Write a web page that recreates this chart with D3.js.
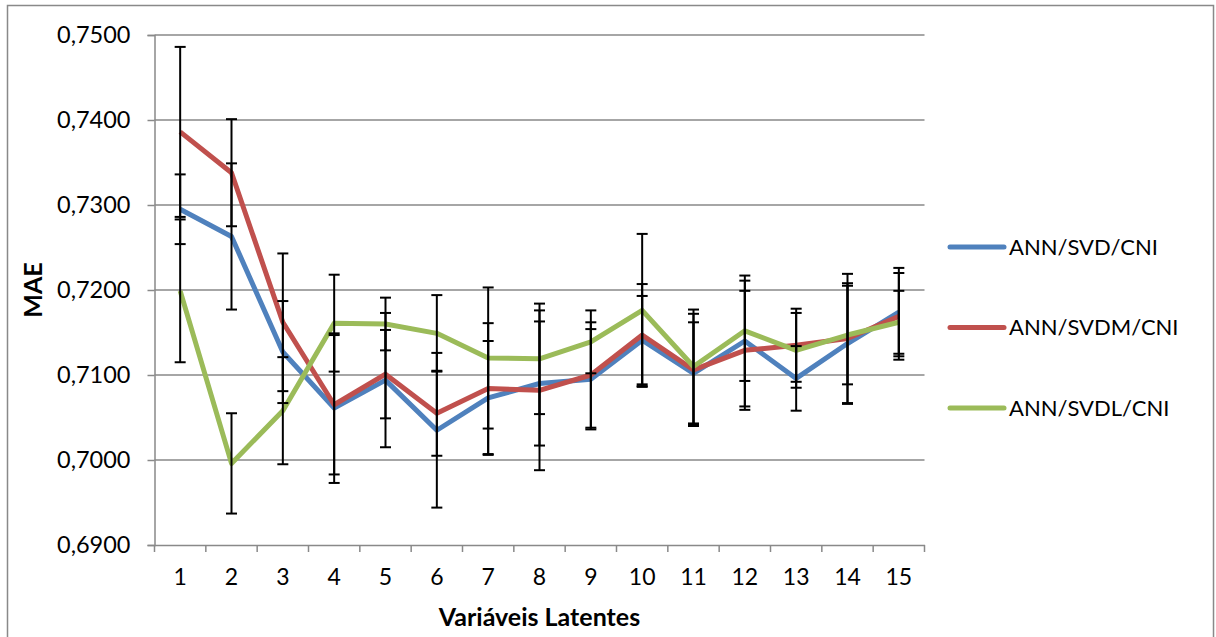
<!DOCTYPE html>
<html>
<head>
<meta charset="utf-8">
<script src="https://cdn.jsdelivr.net/npm/d3@7/dist/d3.min.js"></script>
<style>
  html, body { margin: 0; padding: 0; background: #fff; }
  svg { display: block; font-family: Lato, "Open Sans", sans-serif; }
</style>
</head>
<body>
<svg id="chart" width="1216" height="637"></svg>
<script>
// Latent variables on the x axis
const categories = ["1","2","3","4","5","6","7","8","9","10","11","12","13","14","15"];

// Mean absolute error per model
const svd  = [0.7295, 0.7263, 0.7127, 0.7061, 0.7094, 0.7035, 0.7073, 0.7090, 0.7095, 0.7141, 0.7102, 0.7140, 0.7096, 0.7137, 0.7174];
const svdm = [0.7386, 0.7338, 0.7162, 0.7065, 0.7101, 0.7055, 0.7084, 0.7082, 0.7100, 0.7147, 0.7106, 0.7129, 0.7135, 0.7143, 0.7169];
const svdl = [0.7199, 0.6996, 0.7058, 0.7161, 0.7160, 0.7149, 0.7120, 0.7119, 0.7139, 0.7176, 0.7110, 0.7152, 0.7129, 0.7147, 0.7162];

// Error bar half-widths (+/-)
const svdErr  = [0.0041, 0.0086, 0.0060, 0.0088, 0.0079, 0.0091, 0.0067, 0.0073, 0.0059, 0.0052, 0.0060, 0.0077, 0.0038, 0.0071, 0.0052];
const svdmErr = [0.0100, 0.0063, 0.0081, 0.0082, 0.0052, 0.0050, 0.0077, 0.0094, 0.0062, 0.0060, 0.0066, 0.0070, 0.0043, 0.0076, 0.0051];
const svdlErr = [0.0084, 0.0059, 0.0063, 0.0057, 0.0031, 0.0045, 0.0083, 0.0065, 0.0037, 0.0090, 0.0067, 0.0059, 0.0044, 0.0058, 0.0037];

const seriesNames = ["ANN/SVD/CNI", "ANN/SVDM/CNI", "ANN/SVDL/CNI"];
const seriesColors = ["#4F81BD", "#C0504D", "#9BBB59"];
const yTicks = [0.69, 0.70, 0.71, 0.72, 0.73, 0.74, 0.75];

const series = [
  { name: seriesNames[0], color: seriesColors[0], values: svd,  err: svdErr },
  { name: seriesNames[1], color: seriesColors[1], values: svdm, err: svdmErr },
  { name: seriesNames[2], color: seriesColors[2], values: svdl, err: svdlErr }
];

const svg = d3.select("#chart");
const gridColor = "#898989";

// outer chart frame
svg.append("rect")
  .attr("x", 7.5).attr("y", 5.5)
  .attr("width", 1206).attr("height", 640)
  .attr("fill", "none").attr("stroke", gridColor).attr("stroke-width", 1.5);

const plot = { left: 154.5, right: 924.5, top: 35, bottom: 545 };

const x = d3.scaleBand().domain(categories).range([plot.left, plot.right]);
const y = d3.scaleLinear().domain([0.69, 0.75]).range([plot.bottom, plot.top]);
const fmt = v => d3.format(".4f")(v).replace(".", ",");

// y axis
const yAxis = svg.append("g")
  .attr("transform", `translate(${plot.left},0)`)
  .call(d3.axisLeft(y).tickValues(yTicks).tickFormat(fmt).tickSize(7).tickPadding(17));
yAxis.select(".domain").attr("stroke", gridColor).attr("stroke-width", 1.5);
yAxis.selectAll(".tick line").attr("stroke", gridColor).attr("stroke-width", 1.5);
yAxis.selectAll(".tick text")
  .attr("fill", "#000").style("font-size", "23.5px").style("font-family", "Lato, sans-serif");

// horizontal gridlines
svg.append("g")
  .selectAll("line")
  .data(yTicks.filter(t => t > 0.69))
  .join("line")
  .attr("x1", plot.left).attr("x2", plot.right)
  .attr("y1", d => y(d)).attr("y2", d => y(d))
  .attr("stroke", gridColor).attr("stroke-width", 1.5);

// x axis with ticks between categories
const xAxis = svg.append("g")
  .attr("transform", `translate(0,${plot.bottom})`)
  .call(d3.axisBottom(x).tickSize(0).tickPadding(24));
xAxis.select(".domain").attr("stroke", gridColor).attr("stroke-width", 1.5);
xAxis.selectAll(".tick text")
  .attr("fill", "#000").style("font-size", "23px").style("font-family", "Lato, sans-serif");
const boundaries = categories.map(c => x(c)).concat([x(categories[categories.length - 1]) + x.bandwidth()]);
svg.append("g")
  .selectAll("line")
  .data(boundaries)
  .join("line")
  .attr("x1", d => d).attr("x2", d => d)
  .attr("y1", plot.bottom).attr("y2", plot.bottom + 7)
  .attr("stroke", gridColor).attr("stroke-width", 1.5);

// axis titles
svg.append("text")
  .attr("x", x(categories[7]) + x.bandwidth() / 2)
  .attr("y", 626)
  .attr("text-anchor", "middle")
  .style("font-size", "25px").style("font-weight", "bold")
  .text("Variáveis Latentes");

svg.append("text")
  .attr("transform", `translate(42,${(plot.top + plot.bottom) / 2}) rotate(-90)`)
  .attr("text-anchor", "middle")
  .style("font-size", "25px").style("font-weight", "bold")
  .text("MAE");

const cx = c => x(c) + x.bandwidth() / 2;

// lines
const line = d3.line().x((d, i) => cx(categories[i])).y(d => y(d));
series.forEach(s => {
  svg.append("path")
    .datum(s.values)
    .attr("fill", "none")
    .attr("stroke", s.color)
    .attr("stroke-width", 5)
    .attr("stroke-linejoin", "round")
    .attr("d", line);
});

// error bars
const capHalf = 5.5;
series.forEach(s => {
  const g = svg.append("g").attr("stroke", "#000").attr("stroke-width", 2);
  s.values.forEach((v, i) => {
    const px = cx(categories[i]);
    const hi = y(v + s.err[i]), lo = y(v - s.err[i]);
    g.append("line").attr("x1", px).attr("x2", px).attr("y1", hi).attr("y2", lo);
    g.append("line").attr("x1", px - capHalf).attr("x2", px + capHalf).attr("y1", hi).attr("y2", hi);
    g.append("line").attr("x1", px - capHalf).attr("x2", px + capHalf).attr("y1", lo).attr("y2", lo);
  });
});

// legend
const legend = svg.append("g");
series.forEach((s, i) => {
  const ly = 247 + i * 80.5;
  legend.append("line")
    .attr("x1", 950).attr("x2", 1004)
    .attr("y1", ly).attr("y2", ly)
    .attr("stroke", s.color).attr("stroke-width", 5).attr("stroke-linecap", "round");
  legend.append("text")
    .attr("x", 1009).attr("y", ly)
    .attr("dy", "0.35em")
    .style("font-size", "22px")
    .text(s.name);
});
</script>
</body>
</html>
